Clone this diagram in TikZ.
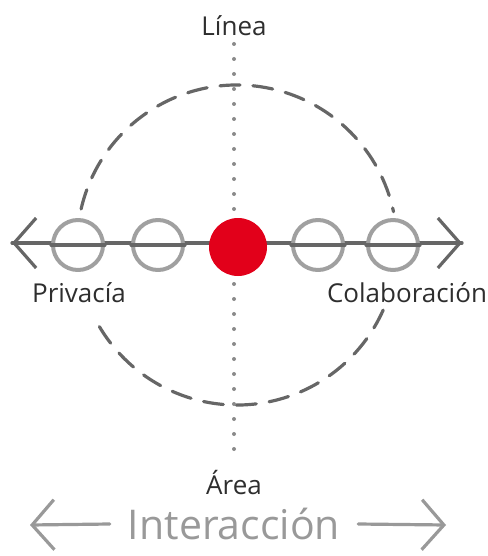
\documentclass[tikz,border=0pt]{standalone}
\usepackage{fontspec}
\setmainfont{Open Sans}
\usetikzlibrary{arrows.meta}
\newcommand{\Ring}{25pt}
\newcommand{\Wire}{3.2pt}
\definecolor{pencil}{HTML}{666666}
\definecolor{ringgrey}{HTML}{A0A0A0}
\definecolor{dotgrey}{HTML}{8A8A8A}
\definecolor{signal}{HTML}{E2001A}
\definecolor{ink}{HTML}{2E2E2E}
\definecolor{soft}{HTML}{999999}

\begin{document}
\begin{tikzpicture}[x=1pt,y=-1pt, line join=round, line cap=round,
  ring/.style={circle,draw=ringgrey,line width=4pt,fill=white,
    minimum size=2*\Ring,inner sep=0pt},
  label/.style={text=ink,font=\fontsize{26}{30}\selectfont,inner sep=0pt},
  tip/.style={-{Straight Barb[length=22pt,width=50pt,line width=\Wire]}}]

  \useasboundingbox (0,0) rectangle (487,556);

  % ---- the dashed ring round the middle -----------------------------------
  % Broken where it meets the axis on both sides.
  \draw[pencil,line width=\Wire,dash pattern=on 20pt off 13pt]
    (237,245) ++(24:160) arc[start angle=24,end angle=153,radius=160];
  \draw[pencil,line width=\Wire,dash pattern=on 20pt off 13pt]
    (237,245) ++(193:160) arc[start angle=193,end angle=348,radius=160];

  % ---- the dotted axis, top to bottom -------------------------------------
  \coordinate (top) at (234,44);
  \coordinate (bottom) at (234,452);
  \draw[dotgrey,line width=4pt,dash pattern=on 0pt off 15pt] (top) -- (bottom);
  \node[label,anchor=south] (linea) at (234,36) {Línea};
  \node[label,anchor=north] (area) at (234,470) {Área};

  % ---- the axis across, with its two ends ---------------------------------
  \coordinate (westend) at (12,243);
  \coordinate (eastend) at (462,243);
  \draw[pencil,line width=\Wire,tip] (eastend) -- (westend);
  \draw[pencil,line width=\Wire,tip] (westend) -- (eastend);

  % ---- the rings on it, and the red one -----------------------------------
  \node[ring] (p2) at (78,245) {};
  \node[ring] (p1) at (158,245) {};
  \node[ring] (c1) at (318,245) {};
  \node[ring] (c2) at (393,245) {};
  \draw[pencil,line width=\Wire] (p2.west) -- (p2.east);
  \draw[pencil,line width=\Wire] (p1.west) -- (p1.east);
  \draw[pencil,line width=\Wire] (c1.west) -- (c1.east);
  \draw[pencil,line width=\Wire] (c2.west) -- (c2.east);
  \node[circle,fill=signal,minimum size=58pt,inner sep=0pt] (here) at (238,247) {};

  \node[label,anchor=north] (privacia) at (79,282) {Privacía};
  \node[label,anchor=north] (colaboracion) at (407,282) {Colaboración};

  % ---- the caption under it all -------------------------------------------
  \node[text=soft,font=\fontsize{41}{46}\selectfont,inner sep=0pt] (interaccion) at (234,524) {Interacción};
  \coordinate (leftfar) at (30,525);
  \coordinate (rightfar) at (446,525);
  \draw[soft,line width=\Wire,tip] ([xshift=-18pt]interaccion.west) -- (leftfar);
  \draw[soft,line width=\Wire,tip] ([xshift=18pt]interaccion.east) -- (rightfar);

\end{tikzpicture}
\end{document}
